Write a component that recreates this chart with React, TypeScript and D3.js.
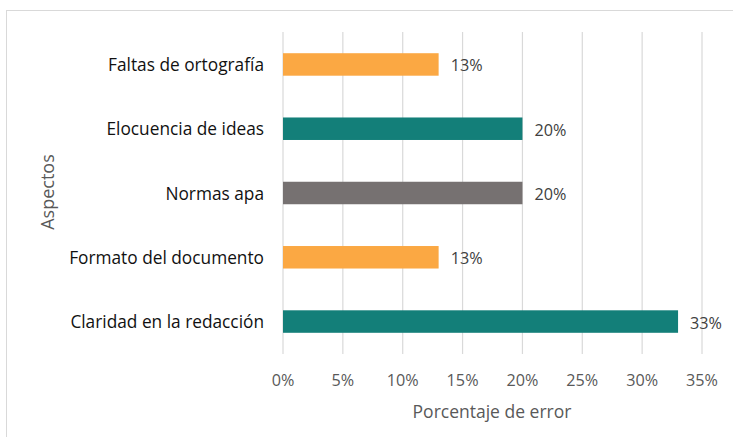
import React from "react";
import * as d3 from "d3";

const categories = ["Faltas de ortografía", "Elocuencia de ideas", "Normas apa", "Formato del documento", "Claridad en la redacción"];
const values = [13, 20, 20, 13, 33];
const colors = ["#FBA843", "#137F79", "#767171", "#FBA843", "#137F79"];
const ticks = [0, 5, 10, 15, 20, 25, 30, 35];

export default function App() {
  const W = 733, H = 437;
  const x = d3.scaleLinear().domain([0, 35]).range([283, 702]);
  const y = d3.scaleBand().domain(categories).range([32, 354]).paddingInner(0.65).paddingOuter(0.33);
  const font = "'Segoe UI', 'Open Sans', 'Noto Sans', sans-serif";
  return (
    <svg width={W} height={H} style={{ position: "absolute", left: 0, top: 0 }} fontFamily={font}>
      <rect x={0} y={0} width={W} height={H} fill="#fff" />
      <rect x={6.5} y={10.5} width={740} height={440} fill="none" stroke="#d9d9d9" strokeWidth={1} />
      {ticks.map((t) => (
        <line key={t} x1={x(t)} x2={x(t)} y1={32} y2={354} stroke="#d9d9d9" strokeWidth={1.2} />
      ))}
      {categories.map((c, i) => (
        <g key={c}>
          <rect x={x(0)} y={y(c)!} width={x(values[i]) - x(0)} height={y.bandwidth()} fill={colors[i]} />
          <text x={264} y={y(c)! + y.bandwidth() / 2} textAnchor="end" dominantBaseline="central" fontSize={17.3} fill="#111">{c}</text>
          <text x={x(values[i]) + 12} y={y(c)! + y.bandwidth() / 2 + 1} dominantBaseline="central" fontSize={16.2} fill="#404040">{values[i]}%</text>
        </g>
      ))}
      {ticks.map((t) => (
        <text key={t} x={x(t)} y={380} textAnchor="middle" dominantBaseline="central" fontSize={16.2} fill="#595959">{t}%</text>
      ))}
      <text x={492} y={411} textAnchor="middle" dominantBaseline="central" fontSize={17.5} fill="#595959">Porcentaje de error</text>
      <text transform={`translate(47,192) rotate(-90)`} textAnchor="middle" dominantBaseline="central" fontSize={18} fill="#595959">Aspectos</text>
    </svg>
  );
}
